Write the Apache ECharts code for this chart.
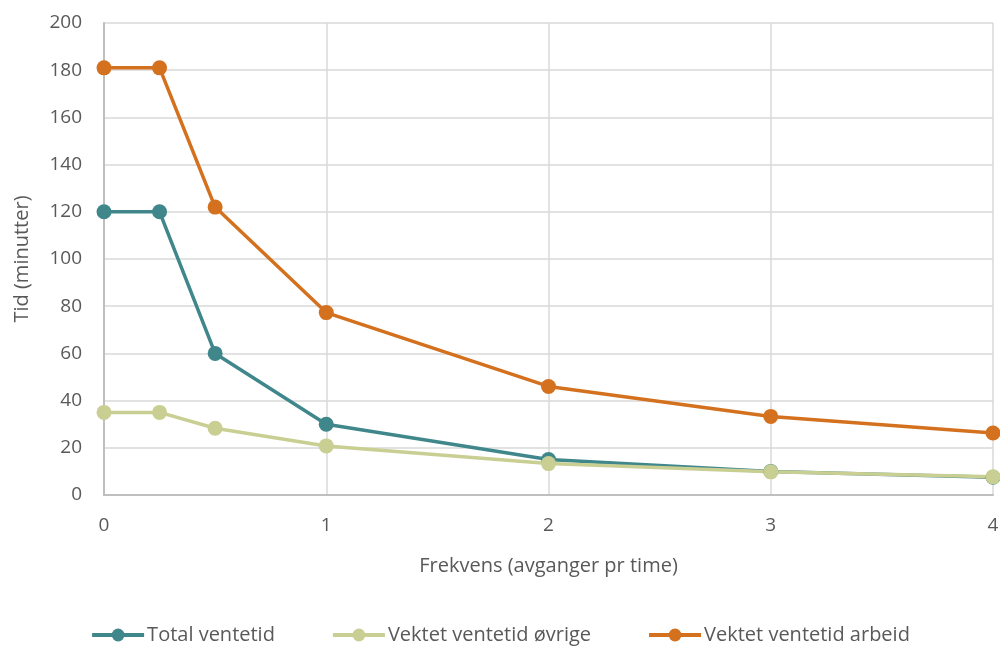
<!DOCTYPE html>
<html><head><meta charset="utf-8">
<script src="https://cdn.jsdelivr.net/npm/echarts@6/dist/echarts.min.js"></script>
<style>html,body{margin:0;padding:0;background:#fff}#c{width:1000px;height:646px}</style>
</head><body><div id="c"></div>
<script>
const frekvens = [0, 0.25, 0.5, 1, 2, 3, 4];
const totalVentetid = [120, 120, 60, 30, 15, 10, 7.5];
const vektetOvrige = [35, 35, 28.3, 20.8, 13.3, 9.8, 7.7];
const vektetArbeid = [181, 181, 122, 77.3, 46, 33.3, 26.3];
const seriesNames = ['Total ventetid', 'Vektet ventetid øvrige', 'Vektet ventetid arbeid'];
const colors = ['#3f878b', '#c9cf92', '#d4711f'];

const pair = arr => frekvens.map((x, i) => [x, arr[i]]);
const font = '"Open Sans", Lato, sans-serif';
const chart = echarts.init(document.getElementById('c'), null, {renderer: 'canvas'});
chart.setOption({
  animation: false,
  color: colors,
  grid: {left: 104, right: 7, top: 23, bottom: 151, containLabel: false, outerBoundsMode: 'none'},
  xAxis: {
    type: 'value', min: 0, max: 4, interval: 1,
    name: 'Frekvens (avganger pr time)', nameLocation: 'middle', nameGap: 61,
    nameTextStyle: {fontFamily: font, fontSize: 20, color: '#595959'},
    axisLine: {show: true, lineStyle: {color: '#bfbfbf', width: 2}},
    axisTick: {show: false},
    axisLabel: {fontFamily: font, fontSize: 19, color: '#595959', margin: 21},
    splitLine: {show: true, lineStyle: {color: '#d9d9d9', width: 1.5}}
  },
  yAxis: {
    type: 'value', min: 0, max: 200, interval: 20,
    name: 'Tid (minutter)', nameLocation: 'middle', nameGap: 72,
    nameTextStyle: {fontFamily: font, fontSize: 20, color: '#595959'},
    axisLine: {show: true, lineStyle: {color: '#bfbfbf', width: 2}},
    axisTick: {show: false},
    axisLabel: {fontFamily: font, fontSize: 19, color: '#595959', margin: 22},
    splitLine: {show: true, lineStyle: {color: '#d9d9d9', width: 1.5}}
  },
  legend: {
    top: 620, left: 'center', itemGap: 56, itemWidth: 52, itemHeight: 16,
    lineStyle: {width: 4},
    textStyle: {fontFamily: font, fontSize: 20, color: '#595959', padding: [0, 0, 0, -2]},
    data: seriesNames
  },
  series: [totalVentetid, vektetOvrige, vektetArbeid].map((arr, i) => ({
    name: seriesNames[i], type: 'line', data: pair(arr),
    symbol: 'circle', symbolSize: 15,
    lineStyle: {width: 3.5, color: colors[i]},
    itemStyle: {color: colors[i]}
  }))
});
</script></body></html>
